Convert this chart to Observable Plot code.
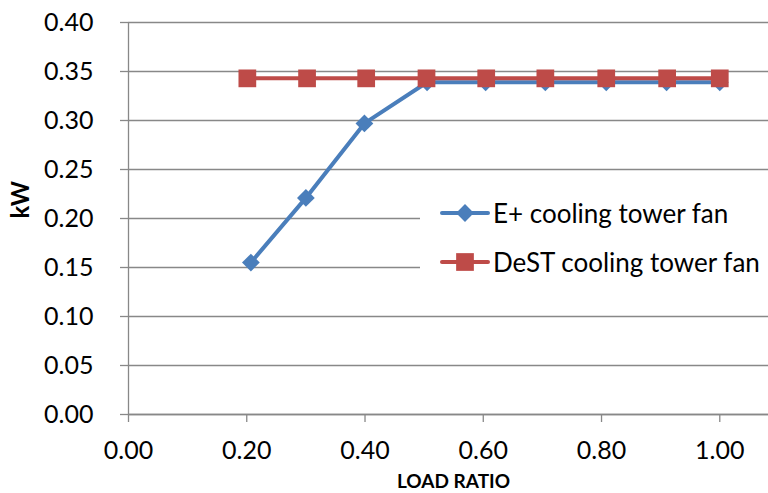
<!DOCTYPE html>
<html>
<head>
<meta charset="utf-8">
<script src="https://cdn.jsdelivr.net/npm/d3@7"></script>
<script src="https://cdn.jsdelivr.net/npm/@observablehq/plot@0.6"></script>
<style>
  html, body { margin: 0; padding: 0; background: #fff; }
  #wrap { position: relative; width: 768px; height: 493px; font-family: Lato, "Open Sans", sans-serif; }
  #legend { position: absolute; left: 420px; top: 190px; width: 348px; height: 98px; background: #fff; }
  .row { position: absolute; left: 20px; display: flex; align-items: center; font-size: 26px; color: #000; white-space: nowrap; }
  .row svg { margin-right: 3px; }
</style>
</head>
<body>
<div id="wrap"><div id="legend"></div></div>
<script>
const loadRatioEplus = [0.207, 0.30, 0.399, 0.505, 0.604, 0.705, 0.808, 0.910, 1.0];
const eplusKW        = [0.155, 0.221, 0.297, 0.339, 0.339, 0.339, 0.339, 0.339, 0.339];
const loadRatioDest  = [0.201, 0.302, 0.402, 0.504, 0.605, 0.705, 0.808, 0.911, 1.0];
const destKW         = [0.343, 0.343, 0.343, 0.343, 0.343, 0.343, 0.343, 0.343, 0.343];
const seriesNames = ["E+ cooling tower fan", "DeST cooling tower fan"];
const seriesColors = ["#4A7EBB", "#BE4B48"];
const xTicks = [0, 0.2, 0.4, 0.6, 0.8, 1.0];
const yTicks = [0, 0.05, 0.10, 0.15, 0.20, 0.25, 0.30, 0.35, 0.40];

const eplus = loadRatioEplus.map((x, i) => ({x, y: eplusKW[i]}));
const dest = loadRatioDest.map((x, i) => ({x, y: destKW[i]}));
const grid = "#888888";
const fmt = d => d.toFixed(2);

const chart = Plot.plot({
  width: 768,
  height: 493,
  marginLeft: 128,
  marginRight: 0,
  marginTop: 22,
  marginBottom: 79,
  style: {fontFamily: "Lato, 'Open Sans', sans-serif", fontSize: "25px", color: "#000", background: "#fff", overflow: "visible"},
  x: {domain: [0, 1.0824]},
  y: {domain: [0, 0.4]},
  marks: [
    Plot.gridY(yTicks, {stroke: grid, strokeOpacity: 1, strokeWidth: 1.3}),
    Plot.axisY(yTicks, {tickSize: 8, tickPadding: 27, stroke: grid, strokeWidth: 1.3, tickFormat: fmt, label: null, fill: "#000"}),
    Plot.axisX(xTicks, {tickSize: 8, tickPadding: 19, stroke: grid, strokeWidth: 1.3, tickFormat: fmt, label: null, fill: "#000"}),
    Plot.ruleX([0], {stroke: grid, strokeWidth: 1.3}),
    Plot.ruleY([0], {stroke: grid, strokeWidth: 1.3}),
    Plot.line(eplus, {x: "x", y: "y", stroke: seriesColors[0], strokeWidth: 4}),
    Plot.dot(eplus, {x: "x", y: "y", symbol: "diamond2", r: 8, fill: seriesColors[0], stroke: "none"}),
    Plot.line(dest, {x: "x", y: "y", stroke: seriesColors[1], strokeWidth: 4}),
    Plot.dot(dest, {x: "x", y: "y", symbol: "square", r: 10, fill: seriesColors[1], stroke: "none"}),
    Plot.text(["kW"], {frameAnchor: "left", dx: -107, rotate: -90, fontWeight: "bold", fontSize: 24, fill: "#000"}),
    Plot.text(["LOAD RATIO"], {frameAnchor: "bottom", dx: 5, dy: 73, fontWeight: "bold", fontSize: 19, fill: "#000"})
  ]
});
document.getElementById("wrap").prepend(chart);

// legend
const legend = d3.select("#legend");
const symbols = ["diamond", "square"];
seriesNames.forEach((name, i) => {
  const row = legend.append("div").attr("class", "row").style("top", (i * 49 + 3) + "px");
  const s = row.append("svg").attr("width", 50).attr("height", 40);
  s.append("line").attr("x1", 2).attr("x2", 48).attr("y1", 20).attr("y2", 20)
    .attr("stroke", seriesColors[i]).attr("stroke-width", 4).attr("stroke-linecap", "round");
  if (symbols[i] === "diamond") {
    s.append("path").attr("d", d3.symbol(d3.symbolDiamond2, Math.PI * 8 * 8)()).attr("transform", "translate(25,20)").attr("fill", seriesColors[i]);
  } else {
    s.append("path").attr("d", d3.symbol(d3.symbolSquare, Math.PI * 10 * 10)()).attr("transform", "translate(25,20)").attr("fill", seriesColors[i]);
  }
  row.append("span").text(name);
});
</script>
</body>
</html>
